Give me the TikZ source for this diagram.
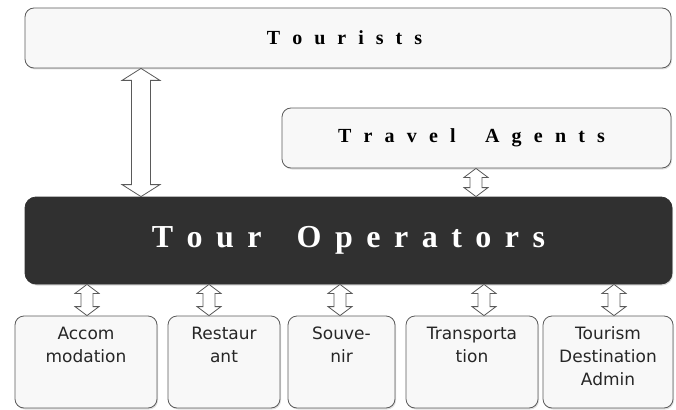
\documentclass[tikz,border=0pt]{standalone}
\usepackage{fontspec}
\setmainfont{Liberation Serif}
\newfontfamily\boxfont{DejaVu Sans}
\usetikzlibrary{calc,shadows}
\def\spc#1#2{#2\def\spcamt{#1}\spcnext}
\def\spcnext#1{\ifx#1\relax\else\kern\spcamt#1\expandafter\spcnext\fi}
\definecolor{edge}{HTML}{5A5A5A}
\definecolor{lightfill}{HTML}{F8F8F8}
\definecolor{darkfill}{HTML}{303030}
\tikzset{
  box/.style={draw=edge, line width=0.8pt, rounded corners=9pt, fill=lightfill, inner sep=0pt,
    drop shadow={opacity=0.25, shadow xshift=1pt, shadow yshift=-1.5pt}},
  darkbox/.style={draw=darkfill, line width=0.8pt, rounded corners=11pt, fill=darkfill, inner sep=0pt,
    drop shadow={opacity=0.3, shadow xshift=1pt, shadow yshift=-1.5pt}},
  bigtxt/.style={font=\fontsize{20}{24}\selectfont\bfseries, text=black},
  optxt/.style={font=\fontsize{32}{36}\selectfont\bfseries, text=white},
  bottxt/.style={font=\boxfont\fontsize{17}{23}\selectfont, align=center, anchor=north, inner sep=0pt, text=black!85},
  arr/.style={draw=edge, line width=0.8pt, fill=white, line join=miter},
}
% #1 top point, #2 bottom point, #3 shaft half width, #4 head half width, #5 head length
\newcommand\blockarrow[5]{%
  \draw[arr] let \p1=#1, \p2=#2 in
    (\x1,\y1) -- (\x1+#4pt,\y1-#5pt) -- (\x1+#3pt,\y1-#5pt) -- (\x1+#3pt,\y2+#5pt)
    -- (\x1+#4pt,\y2+#5pt) -- (\x1,\y2) -- (\x1-#4pt,\y2+#5pt) -- (\x1-#3pt,\y2+#5pt)
    -- (\x1-#3pt,\y1-#5pt) -- (\x1-#4pt,\y1-#5pt) -- cycle;}
\begin{document}
\begin{tikzpicture}[x=1pt,y=-1pt]
\useasboundingbox (0,0) rectangle (676,409);
% boxes
\node[box, minimum width=646pt, minimum height=60pt] (tourists) at (348,38) {};
\node[bigtxt] (tourtxt) at (344.5,38) {\spc{12pt}Tourists\relax};
\node[box, minimum width=389pt, minimum height=60pt] (agents) at (476.5,138) {};
\node[bigtxt] (agtxt) at (471.5,138) {\spc{12.2pt}Travel~Agents\relax};
\node[darkbox, minimum width=647pt, minimum height=87pt] (tour) at (348.5,240.5) {};
\node[optxt] (optxt) at (tour.center) {\spc{13.5pt}Tour~Operators\relax};
% bottom boxes
\node[box, minimum width=142pt, minimum height=92pt] (acc) at (86,362) {};
\node[box, minimum width=112pt, minimum height=92pt] (res) at (224,362) {};
\node[box, minimum width=107pt, minimum height=92pt] (sou) at (341.5,362) {};
\node[box, minimum width=132pt, minimum height=92pt] (tra) at (472,362) {};
\node[box, minimum width=130pt, minimum height=92pt] (tda) at (608,362) {};
\node[bottxt] (acctxt) at ($(acc.north)+(0,11)$) {Accom\\modation};
\node[bottxt] (restxt) at ($(res.north)+(0,11)$) {Restaur\\ant};
\node[bottxt] (soutxt) at ($(sou.north)+(0,11)$) {Souve-\\nir};
\node[bottxt] (tratxt) at ($(tra.north)+(0,11)$) {Transporta\\tion};
\node[bottxt] (tdatxt) at ($(tda.north)+(0,11)$) {Tourism\\Destination\\Admin};
% arrow x positions
\coordinate (xa) at (141,0);
\coordinate (xb) at (476,0);
\coordinate (x1) at (87,0);
\coordinate (x2) at (209,0);
\coordinate (x3) at (340,0);
\coordinate (x4) at (484,0);
\coordinate (x5) at (614,0);
% arrows
\blockarrow{(xa |- tourists.south)}{(xa |- tour.north)}{9.5}{19}{12}
\blockarrow{(xb |- agents.south)}{(xb |- tour.north)}{6}{12}{9}
\blockarrow{(x1 |- tour.south)}{(x1 |- acc.north)}{6}{12}{9}
\blockarrow{(x2 |- tour.south)}{(x2 |- res.north)}{6}{12}{9}
\blockarrow{(x3 |- tour.south)}{(x3 |- sou.north)}{6}{12}{9}
\blockarrow{(x4 |- tour.south)}{(x4 |- tra.north)}{6}{12}{9}
\blockarrow{(x5 |- tour.south)}{(x5 |- tda.north)}{6}{12}{9}
\end{tikzpicture}
\end{document}
